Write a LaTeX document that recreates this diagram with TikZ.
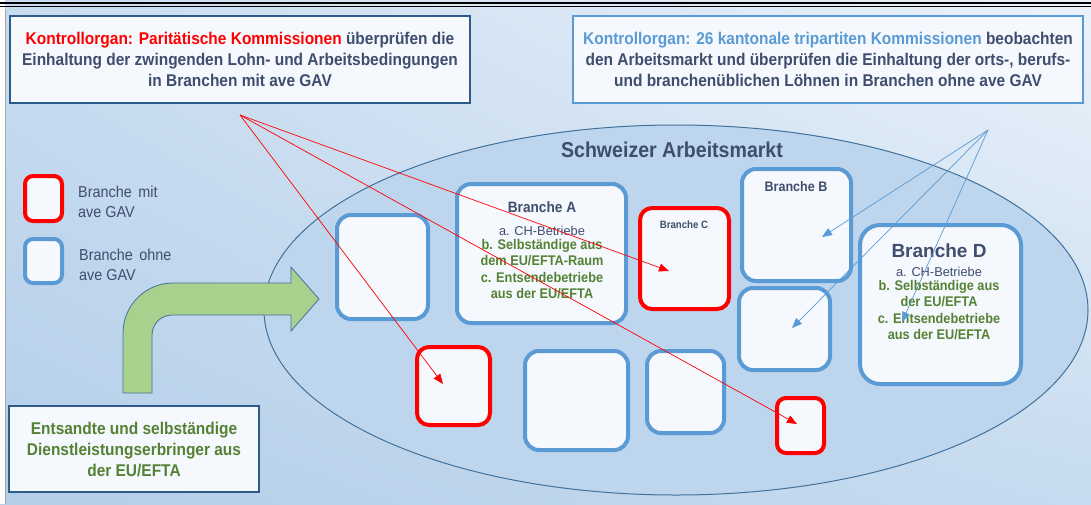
\documentclass[tikz,border=0pt]{standalone}
\usepackage{fontspec}
\setmainfont{Liberation Sans}
\newfontfamily\cond[FakeStretch=0.91]{Liberation Sans}
\usetikzlibrary{arrows.meta,shapes.geometric,shadings}
\definecolor{txtdark}{HTML}{3F4D6E}
\definecolor{txtgreen}{HTML}{548235}
\definecolor{txtred}{HTML}{FF0000}
\definecolor{txtblue}{HTML}{5B9BD5}
\definecolor{boxblue}{HTML}{5B9BD5}
\definecolor{boxred}{HTML}{FF0000}
\definecolor{boxfill}{HTML}{F5F8FC}
\definecolor{frameA}{HTML}{2E5C8A}
\definecolor{ellfill}{HTML}{BDD6ED}
\definecolor{elldraw}{HTML}{41719C}
\definecolor{arrowgreen}{HTML}{A9D18E}
\definecolor{bgUL}{HTML}{C8DCF0}
\definecolor{bgUR}{HTML}{EBF2FA}
\definecolor{bgLL}{HTML}{B4CEE8}
\definecolor{bgLR}{HTML}{C6DBEF}
\newcommand\myfs[2]{\fontsize{#1}{#2}\selectfont}
\begin{document}
\begin{tikzpicture}[x=1pt,y=-1pt,
  bluebox/.style={draw=boxblue, line width=4pt, fill=boxfill, rounded corners=14pt, inner sep=0pt},
  redbox/.style={draw=boxred, line width=4pt, fill=boxfill, rounded corners=12pt, inner sep=0pt},
  infobox/.style={fill=boxfill, inner sep=0pt, align=center, font=\cond\myfs{17}{21}\bfseries, text=txtdark},
  redarrow/.style={draw=boxred, line width=0.7pt, -{Triangle[length=10pt,width=8pt]}},
  bluearrow/.style={draw=boxblue, line width=0.7pt, -{Triangle[length=10pt,width=8pt]}},
  legendtxt/.style={font=\cond\myfs{15.8}{20}, text=txtdark, align=left, anchor=west, inner sep=0pt},
  brtitle/.style={font=\cond\myfs{15}{16}\bfseries, text=txtdark, inner sep=0pt},
  brsub/.style={font=\myfs{12.8}{16.5}, text=txtdark, inner sep=0pt},
  brgreen/.style={font=\cond\myfs{14}{16.5}\bfseries, text=txtgreen, align=center, inner sep=0pt}
]
\useasboundingbox (0,0) rectangle (1091,504);
% background
\shade[upper left=bgUL, upper right=bgUR, lower left=bgLL, lower right=bgLR] (0,0) rectangle (1091,504);
\fill[white] (0,0) rectangle (5,504);
\draw[gray!70, line width=1pt] (5.5,9) -- (5.5,504);
\draw[black, line width=2pt] (0,2.5) -- (1091,2.5);
\draw[black, line width=1pt] (0,6) -- (1091,6);

% info boxes
\node[infobox, draw=frameA, line width=1.5pt, minimum width=460pt, minimum height=87pt] (kp) at (240,59.5)
  {{\color{txtred}Kontrollorgan: Paritätische Kommissionen} überprüfen die\\Einhaltung der zwingenden Lohn- und Arbeitsbedingungen\\in Branchen mit ave GAV};
\node[infobox, draw=boxblue, line width=1.2pt, minimum width=510pt, minimum height=87pt] (kt) at (828,59.5)
  {{\color{txtblue}Kontrollorgan: 26 kantonale tripartiten Kommissionen} beobachten\\den Arbeitsmarkt und überprüfen die Einhaltung der orts-, berufs-\\und branchenüblichen Löhnen in Branchen ohne ave GAV};
\node[infobox, draw=frameA, line width=1.5pt, minimum width=250pt, minimum height=86pt, text=txtgreen] (ent) at (134,449)
  {Entsandte und selbständige\\Dienstleistungserbringer aus\\der EU/EFTA};

% market ellipse
\node[ellipse, draw=elldraw, line width=1pt, fill=ellfill, minimum width=824pt, minimum height=370pt, inner sep=0pt] (market) at (676,310) {};
\node[font=\cond\myfs{21.5}{24}\bfseries, text=txtdark, inner sep=0pt] (mtitle) at (672,150) {Schweizer Arbeitsmarkt};

% green bent arrow
\draw[elldraw, line width=0.8pt, fill=arrowgreen] (123,393) -- (123,333) .. controls (123,305.4) and (145.4,283) .. (173,283) -- (291,283) -- (291,267) -- (319,299) -- (291,331) -- (291,315) -- (172,315) .. controls (161,315) and (152,324) .. (152,335) -- (152,393) -- cycle;

% legend
\node[redbox, minimum width=37pt, minimum height=45pt, rounded corners=8pt] (lgred) at (43.5,198.5) {};
\node[legendtxt] (lgredt) at (78,202) {Branche\, mit\\ave GAV};
\node[bluebox, minimum width=37pt, minimum height=44pt, rounded corners=8pt] (lgblue) at (43.5,261) {};
\node[legendtxt] (lgbluet) at (79,264.5) {Branche\, ohne\\ave GAV};

% branch boxes
\node[bluebox, minimum width=91pt, minimum height=104pt] (e1) at (382.5,267) {};
\node[bluebox, minimum width=169pt, minimum height=139pt] (bA) at (541.5,253.5) {};
\node[redbox, minimum width=89pt, minimum height=101pt] (bC) at (684.5,258.5) {};
\node[bluebox, minimum width=109pt, minimum height=112pt] (bB) at (796.5,225) {};
\node[bluebox, minimum width=91pt, minimum height=82pt] (e2) at (784.5,329) {};
\node[bluebox, minimum width=161pt, minimum height=159pt, rounded corners=20pt] (bD) at (940.5,304.5) {};
\node[redbox, minimum width=73pt, minimum height=78pt] (r1) at (453.5,386) {};
\node[bluebox, minimum width=103pt, minimum height=99pt] (e3) at (576.5,400.5) {};
\node[bluebox, minimum width=77pt, minimum height=82pt] (e4) at (685.5,392) {};
\node[redbox, minimum width=47pt, minimum height=55pt, rounded corners=9pt] (r2) at (800.5,425.5) {};

% branch texts
\node[brtitle] (tA) at (542,207) {Branche A};
\node[brsub] (tAa) at (542,231) {a. CH-Betriebe};
\node[brgreen, anchor=north] (tAb) at (542,239) {b. Selbständige aus\\dem EU/EFTA-Raum\\c. Entsendebetriebe\\aus der EU/EFTA};
\node[font=\cond\myfs{10.6}{11}\bfseries, text=txtdark, inner sep=0pt] (tC) at (684,225) {Branche C};
\node[font=\cond\myfs{13.8}{14}\bfseries, text=txtdark, inner sep=0pt] (tB) at (796,187) {Branche B};
\node[font=\myfs{19}{22}\bfseries, text=txtdark, inner sep=0pt] (tD) at (939,251) {Branche D};
\node[brsub] (tDa) at (939,272) {a. CH-Betriebe};
\node[brgreen, anchor=north] (tDb) at (939,280) {b. Selbständige aus\\der EU/EFTA\\c. Entsendebetriebe\\aus der EU/EFTA};

% control arrows
\coordinate (ro) at (240,115);
\coordinate (rt1) at (443,384);
\coordinate (rt2) at (669,271);
\coordinate (rt3) at (797,424);
\draw[redarrow] (ro) -- (rt1);
\draw[redarrow] (ro) -- (rt2);
\draw[redarrow] (ro) -- (rt3);
\coordinate (bo) at (988,130);
\coordinate (bt1) at (822,237);
\coordinate (bt2) at (792,328);
\coordinate (bt3) at (902,322);
\draw[bluearrow] (bo) -- (bt1);
\draw[bluearrow] (bo) -- (bt2);
\draw[bluearrow] (bo) -- (bt3);
\end{tikzpicture}
\end{document}
